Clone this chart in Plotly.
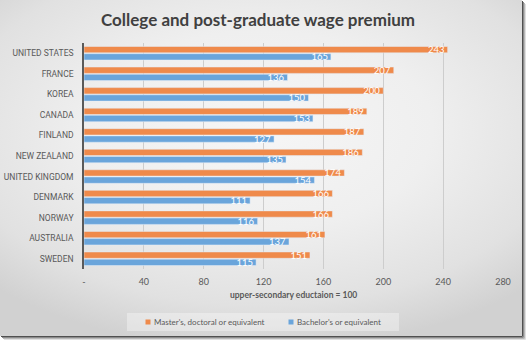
import plotly.graph_objects as go

# Wage premium relative to upper-secondary education (= 100)
countries = ["UNITED STATES", "FRANCE", "KOREA", "CANADA", "FINLAND", "NEW ZEALAND",
             "UNITED KINGDOM", "DENMARK", "NORWAY", "AUSTRALIA", "SWEDEN"]
masters = [243, 207, 200, 189, 187, 186, 174, 166, 166, 161, 151]
bachelors = [165, 136, 150, 153, 127, 135, 154, 111, 116, 137, 115]
x_ticks = [0, 40, 80, 120, 160, 200, 240, 280]
x_tick_labels = ["-", "40", "80", "120", "160", "200", "240", "280"]
series_names = ["Master's, doctoral or equivalent", "Bachelor's or equivalent"]

W, H = 529, 341
FONT = "Lato"
LABEL_FONT = "Roboto"
GREY = "#595959"
ORANGE = "#EF8A4B"
BLUE = "#6AA5DB"


def px(x):
    return x / W


def py(y):
    return 1 - y / H


fig = go.Figure()

# chart-area background: soft radial gradient (on a full-size helper subplot)
fig.add_trace(go.Scatter(
    x=[-120, 642, 642, -120, -120], y=[-90, -90, 350, 350, -90],
    fill="toself", mode="none", hoverinfo="skip", showlegend=False,
    fillgradient=dict(type="radial",
                      colorscale=[[0, "#f6f6f6"], [0.45, "#efefef"],
                                  [0.8, "#e1e1e1"], [1, "#d1d1d1"]]),
    xaxis="x", yaxis="y",
))

fig.add_trace(go.Bar(
    y=countries, x=masters, name=series_names[0], orientation="h",
    marker=dict(color=ORANGE), text=masters, textposition="inside",
    insidetextanchor="end", textangle=0, constraintext="none",
    textfont=dict(family=FONT, size=9.5, color="white"),
    xaxis="x2", yaxis="y2", showlegend=False,
))
fig.add_trace(go.Bar(
    y=countries, x=bachelors, name=series_names[1], orientation="h",
    marker=dict(color=BLUE), text=bachelors, textposition="inside",
    insidetextanchor="end", textangle=0, constraintext="none",
    textfont=dict(family=FONT, size=9.5, color="white"),
    xaxis="x2", yaxis="y2", showlegend=False,
))

shapes = []
# frame with drop shadow on right / bottom
shadow = ["#505050", "#8c8c8c", "#b8b8b8", "#e0e0e0"]
for i, c in enumerate(shadow):
    shapes.append(dict(type="line", xref="paper", yref="paper",
                       x0=px(522.5 + i), x1=px(522.5 + i), y0=py(1 + i), y1=py(336.5 + i),
                       line=dict(color=c, width=1)))
    shapes.append(dict(type="line", xref="paper", yref="paper",
                       x0=px(1 + i), x1=px(522.5 + i), y0=py(336.5 + i), y1=py(336.5 + i),
                       line=dict(color=c, width=1)))

# legend box and swatches
shapes.append(dict(type="rect", xref="paper", yref="paper",
                   x0=px(127), x1=px(399), y0=py(331), y1=py(313),
                   fillcolor="rgba(255,255,255,0.35)", line=dict(width=0)))
for (x0, c) in [(145.5, ORANGE), (288.5, BLUE)]:
    shapes.append(dict(type="rect", xref="paper", yref="paper",
                       x0=px(x0), x1=px(x0 + 5), y0=py(324.5), y1=py(319.5),
                       fillcolor=c, line=dict(width=0)))

annotations = [
    dict(text="College and post-graduate wage premium", xref="paper", yref="paper",
         x=px(258), y=py(20), xanchor="center", yanchor="middle", showarrow=False,
         font=dict(family=FONT, size=17, color="#404040", weight="bold")),
    dict(text="upper-secondary eductaion = 100", xref="paper", yref="paper",
         x=px(293), y=py(295), xanchor="center", yanchor="middle", showarrow=False,
         font=dict(family=FONT, size=8.5, color=GREY, weight="bold")),
    dict(text=series_names[0], xref="paper", yref="paper",
         x=px(151.5), y=py(322), xanchor="left", yanchor="middle", showarrow=False,
         font=dict(family=FONT, size=8, color=GREY)),
    dict(text=series_names[1], xref="paper", yref="paper",
         x=px(294.5), y=py(322), xanchor="left", yanchor="middle", showarrow=False,
         font=dict(family=FONT, size=8, color=GREY)),
]

fig.update_layout(
    width=W, height=H, margin=dict(l=0, r=0, t=0, b=0),
    paper_bgcolor="white", plot_bgcolor="rgba(0,0,0,0)",
    barmode="group", bargap=0.30, bargroupgap=0.12,
    font=dict(family=FONT, color=GREY),
    xaxis=dict(domain=[0, px(522)], range=[0, 522], visible=False, fixedrange=True,
               automargin=False),
    yaxis=dict(domain=[py(336), 1], range=[336, 0], visible=False, fixedrange=True,
               automargin=False),
    xaxis2=dict(domain=[px(84), px(503)], anchor="y2", range=[0, 280],
                tickvals=x_ticks, ticktext=x_tick_labels, automargin=False,
                showgrid=True, gridcolor="#cdcdcd", gridwidth=1,
                zeroline=False, showline=False, ticks="", ticklabelstandoff=6,
                tickfont=dict(family=FONT, size=9, color=GREY)),
    yaxis2=dict(domain=[py(269), py(43)], anchor="x2", type="category",
                autorange="reversed", showgrid=False, zeroline=False, automargin=False,
                showline=True, linecolor="#5a5a5a", linewidth=1.5,
                ticks="", ticklabelstandoff=7,
                tickfont=dict(family=LABEL_FONT, size=8.5, color=GREY)),
    shapes=shapes, annotations=annotations, showlegend=False,
)

fig.write_html("out.html")
